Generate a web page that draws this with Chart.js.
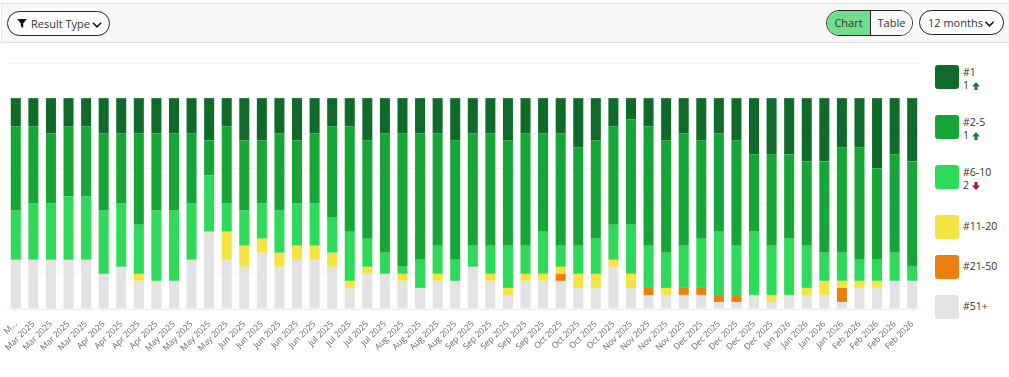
<!DOCTYPE html>
<html>
<head>
<meta charset="utf-8">
<script src="https://cdn.jsdelivr.net/npm/chart.js@4"></script>
<style>
    html, body { margin: 0; padding: 0; background: #fff; font-family: "Open Sans", sans-serif; color: #333; }
    #page { position: relative; width: 1009px; height: 377px; overflow: hidden; }
    #toolbar { position: absolute; left: 1px; top: 3px; width: 1008px; height: 38px; background: #f8f8f8;
        border-top: 1px solid #ddd; border-bottom: 1px solid #ddd; border-left: 1px solid #e6e6e6; }
    .pill { position: absolute; box-sizing: border-box; height: 25px; border: 1px solid #222; border-radius: 13px;
        background: #fff; font-size: 11px; line-height: 23px; white-space: nowrap; }
    .pill svg { position: absolute; }
    #toggle { position: absolute; left: 826px; top: 10px; width: 87px; height: 26px; box-sizing: border-box;
        border: 1px solid #222; border-radius: 13px; overflow: hidden; font-size: 11px; line-height: 24px; }
    #toggle div { position: absolute; top: 0; height: 24px; text-align: center; }
    #chartWrap { position: absolute; left: 0; top: 50px; width: 930px; height: 320px; }
    .swatch { position: absolute; left: 935px; width: 24px; height: 24px; border-radius: 3px; }
    .legendText { position: absolute; left: 963px; font-size: 10.5px; line-height: 13px; color: #333; white-space: nowrap; }
    .legendText svg { margin-left: 3px; vertical-align: -1px; }
</style>
</head>
<body>
<div id="page">
    <div id="toolbar"></div>
    <div class="pill" style="left:7px;top:11px;width:103px;">
        <svg style="left:9px;top:7px" width="10" height="9" viewBox="0 0 12 11"><path d="M0 0H12L7.5 5.2V11L4.5 9V5.2Z" fill="#111"/></svg>
        <span style="position:absolute;left:23px;top:0">Result Type</span>
        <svg style="left:84px;top:10px" width="10" height="6" viewBox="0 0 13 8"><path d="M1 1L6.5 6.5L12 1" fill="none" stroke="#111" stroke-width="2"/></svg>
    </div>
    <div id="toggle">
        <div style="left:0;width:43px;background:#72dd8c;border-right:1px solid #222;">Chart</div>
        <div style="left:44px;width:41px;background:#f8f8f8;">Table</div>
    </div>
    <div class="pill" style="left:919px;top:10px;width:85px;">
        <span style="position:absolute;left:8px;top:0">12 months</span>
        <svg style="left:64px;top:10px" width="11" height="6" viewBox="0 0 13 8"><path d="M1 1L6.5 6.5L12 1" fill="none" stroke="#111" stroke-width="2"/></svg>
    </div>
    <div id="chartWrap"><canvas id="rankChart"></canvas></div>
    <div id="legend"></div>
</div>

<script>
// One label per weekly snapshot
const weekLabels = [
    'M...', 'Mar 2025', 'Mar 2025', 'Mar 2025', 'Mar 2025',
    'Apr 2025', 'Apr 2025', 'Apr 2025', 'Apr 2025',
    'May 2025', 'May 2025', 'May 2025', 'May 2025',
    'Jun 2025', 'Jun 2025', 'Jun 2025', 'Jun 2025', 'Jun 2025',
    'Jul 2025', 'Jul 2025', 'Jul 2025', 'Jul 2025',
    'Aug 2025', 'Aug 2025', 'Aug 2025', 'Aug 2025',
    'Sep 2025', 'Sep 2025', 'Sep 2025', 'Sep 2025', 'Sep 2025',
    'Oct 2025', 'Oct 2025', 'Oct 2025', 'Oct 2025',
    'Nov 2025', 'Nov 2025', 'Nov 2025', 'Nov 2025',
    'Dec 2025', 'Dec 2025', 'Dec 2025', 'Dec 2025', 'Dec 2025',
    'Jan 2026', 'Jan 2026', 'Jan 2026', 'Jan 2026',
    'Feb 2026', 'Feb 2026', 'Feb 2026', 'Feb 2026'
];

// Keyword counts per rank bucket
const rank1 = [4,4,5,4,4,5,5,5,5,5,5,6,4,6,6,5,6,5,4,4,6,5,5,5,5,6,5,5,6,5,5,5,7,6,4,3,4,6,5,6,5,6,8,8,8,9,9,7,7,10,8,9];
const rank2to5 = [12,11,10,10,10,11,10,13,11,11,10,5,11,10,9,11,9,10,13,15,14,17,19,18,16,17,16,16,15,16,14,16,14,14,14,15,17,16,16,14,14,15,11,13,12,12,13,15,16,13,14,15];
const rank6to10 = [7,8,8,9,9,9,9,7,10,10,8,8,4,5,5,6,6,6,5,7,4,3,1,4,4,3,3,4,6,4,6,3,4,5,5,7,6,5,6,7,9,7,9,7,8,6,4,4,3,3,4,2];
const rank11to20 = [0,0,0,0,0,0,0,1,0,0,0,0,4,3,2,2,2,2,2,1,1,0,1,0,1,0,0,1,1,1,1,1,2,2,1,2,0,1,0,0,0,0,0,1,0,1,2,1,1,1,0,0];
const rank21to50 = [0,0,0,0,0,0,0,0,0,0,0,0,0,0,0,0,0,0,0,0,0,0,0,0,0,0,0,0,0,0,0,1,0,0,0,0,1,0,1,1,1,1,0,0,0,0,0,2,0,0,0,0];
const rank51plus = [7,7,7,7,7,5,6,4,4,4,7,11,7,6,8,6,7,7,6,3,5,5,4,3,4,4,6,4,2,4,4,4,3,3,6,3,2,2,2,2,1,1,2,1,2,2,2,1,3,3,4,4];

// Legend content
const legendNames = ['#1', '#2-5', '#6-10', '#11-20', '#21-50', '#51+'];
const legendChange = [1, 1, 2, null, null, null];
const legendDirection = ['up', 'up', 'down', null, null, null];
const legendColors = ['#106b2b', '#16a638', '#2fd95a', '#f3e442', '#ea800f', '#e3e3e3'];
const legendTops = [65, 115, 165, 215, 255, 295];

// Bottom of the stack comes first
const stackOrder = [rank51plus, rank21to50, rank11to20, rank6to10, rank2to5, rank1];
const datasets = stackOrder.map((values, i) => {
    const legendIndex = legendNames.length - 1 - i;
    return {
        label: legendNames[legendIndex],
        data: values,
        backgroundColor: legendColors[legendIndex],
        borderWidth: 0,
        barPercentage: 0.57,
        categoryPercentage: 1
    };
});

new Chart(document.getElementById('rankChart').getContext('2d'), {
    type: 'bar',
    data: { labels: weekLabels, datasets: datasets },
    options: {
        responsive: true,
        maintainAspectRatio: false,
        animation: false,
        layout: { padding: { left: 7, right: 9, top: 13, bottom: 0 } },
        plugins: { legend: { display: false }, tooltip: { enabled: false } },
        scales: {
            x: {
                stacked: true,
                grid: { display: false },
                border: { color: '#eeeeee' },
                ticks: {
                    autoSkip: false,
                    minRotation: 45,
                    maxRotation: 45,
                    padding: 2,
                    color: '#666',
                    font: { family: '"Open Sans"', size: 8.5 }
                },
                afterFit: function(scale) { scale.height = 61; scale.paddingLeft = 0; scale.paddingRight = 0; }
            },
            y: {
                stacked: true,
                min: 0,
                max: 35,
                ticks: { display: false, stepSize: 5 },
                border: { display: false },
                grid: { color: '#f6f6f6', drawTicks: false },
                afterFit: function(scale) { scale.width = 0; }
            }
        }
    }
});

// Build the side legend
const legendEl = document.getElementById('legend');
legendNames.forEach((name, i) => {
    const swatch = document.createElement('div');
    swatch.className = 'swatch';
    swatch.style.top = legendTops[i] + 'px';
    swatch.style.background = legendColors[i];
    legendEl.appendChild(swatch);

    const text = document.createElement('div');
    text.className = 'legendText';
    if (legendChange[i] !== null) {
        const up = legendDirection[i] === 'up';
        const path = up ? 'M4.5 0L9 5H6.2V9H2.8V5H0Z' : 'M4.5 9L9 4H6.2V0H2.8V4H0Z';
        const arrow = '<svg width="8" height="8" viewBox="0 0 9 9"><path d="' + path + '" fill="' + (up ? '#1c7d3a' : '#a3182a') + '"/></svg>';
        text.style.top = legendTops[i] + 1 + 'px';
        text.innerHTML = name + '<br>' + legendChange[i] + arrow;
    } else {
        text.style.top = legendTops[i] + 5 + 'px';
        text.textContent = name;
    }
    legendEl.appendChild(text);
});
</script>
</body>
</html>
